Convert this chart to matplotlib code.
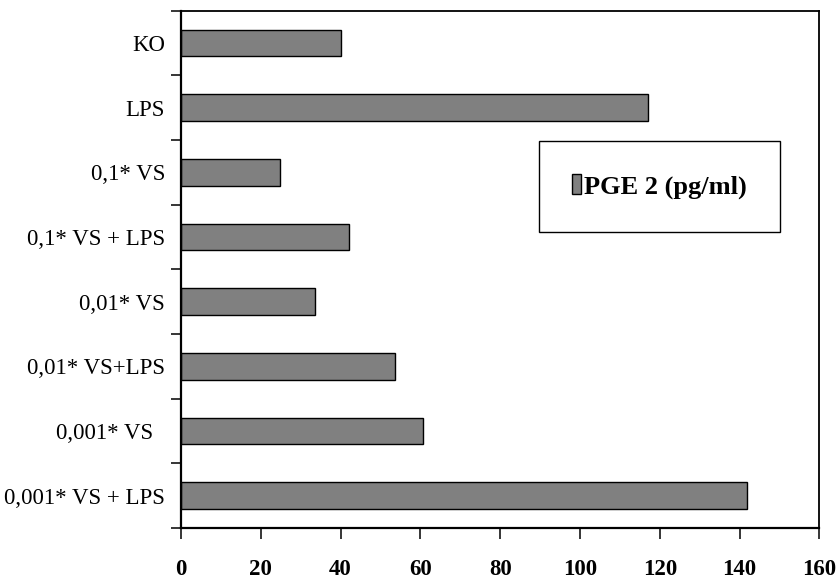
import numpy as np
import matplotlib.pyplot as plt
from matplotlib.ticker import FixedLocator

plt.rcParams["font.family"] = ["Liberation Serif", "DejaVu Serif"]

# PGE2-Konzentration je Ansatz
categories = ["KO", "LPS", "0,1* VS", "0,1* VS + LPS", "0,01* VS",
              "0,01* VS+LPS", "0,001* VS  ", "0,001* VS + LPS"]
pge2 = [40.0, 117.0, 24.8, 42.2, 33.6, 53.6, 60.7, 141.9]
xticks = [0, 20, 40, 60, 80, 100, 120, 140, 160]

fig = plt.figure(figsize=(8.4, 5.81), dpi=100)
ax = fig.add_axes([0.2155, 0.0912, 0.76, 0.8904])

y = np.arange(len(categories))
ax.barh(y, pge2, height=0.41, color="#808080", edgecolor="black",
        linewidth=1.0, label="PGE 2 (pg/ml)")

ax.set_xlim(0, 160)
ax.set_ylim(len(categories) - 0.5, -0.5)

ax.set_xticks(xticks)
ax.set_xticklabels([str(v) for v in xticks], fontsize=16.5, fontweight="bold")
ax.tick_params(axis="x", direction="out", length=8, width=1.1, pad=14)

ax.set_yticks(y)
ax.set_yticklabels(categories, fontsize=16.5)
ax.tick_params(axis="y", which="major", length=0, pad=11.5)
ax.yaxis.set_minor_locator(FixedLocator(np.arange(-0.5, len(categories), 1.0)))
ax.tick_params(axis="y", which="minor", direction="out", length=7, width=1.1)

for side in ["left", "bottom"]:
    ax.spines[side].set_linewidth(1.6)
for side in ["top", "right"]:
    ax.spines[side].set_linewidth(1.3)

leg = ax.legend(loc="center", bbox_to_anchor=(0.7495, 0.66),
                prop={"size": 19, "weight": "bold"},
                handlelength=0.35, handleheight=0.75, handletextpad=0.12,
                borderpad=1.25, fancybox=False, shadow=False, framealpha=1)
leg.get_frame().set_edgecolor("black")
leg.get_frame().set_linewidth(1.0)

fig.savefig("out.png", dpi=100)
